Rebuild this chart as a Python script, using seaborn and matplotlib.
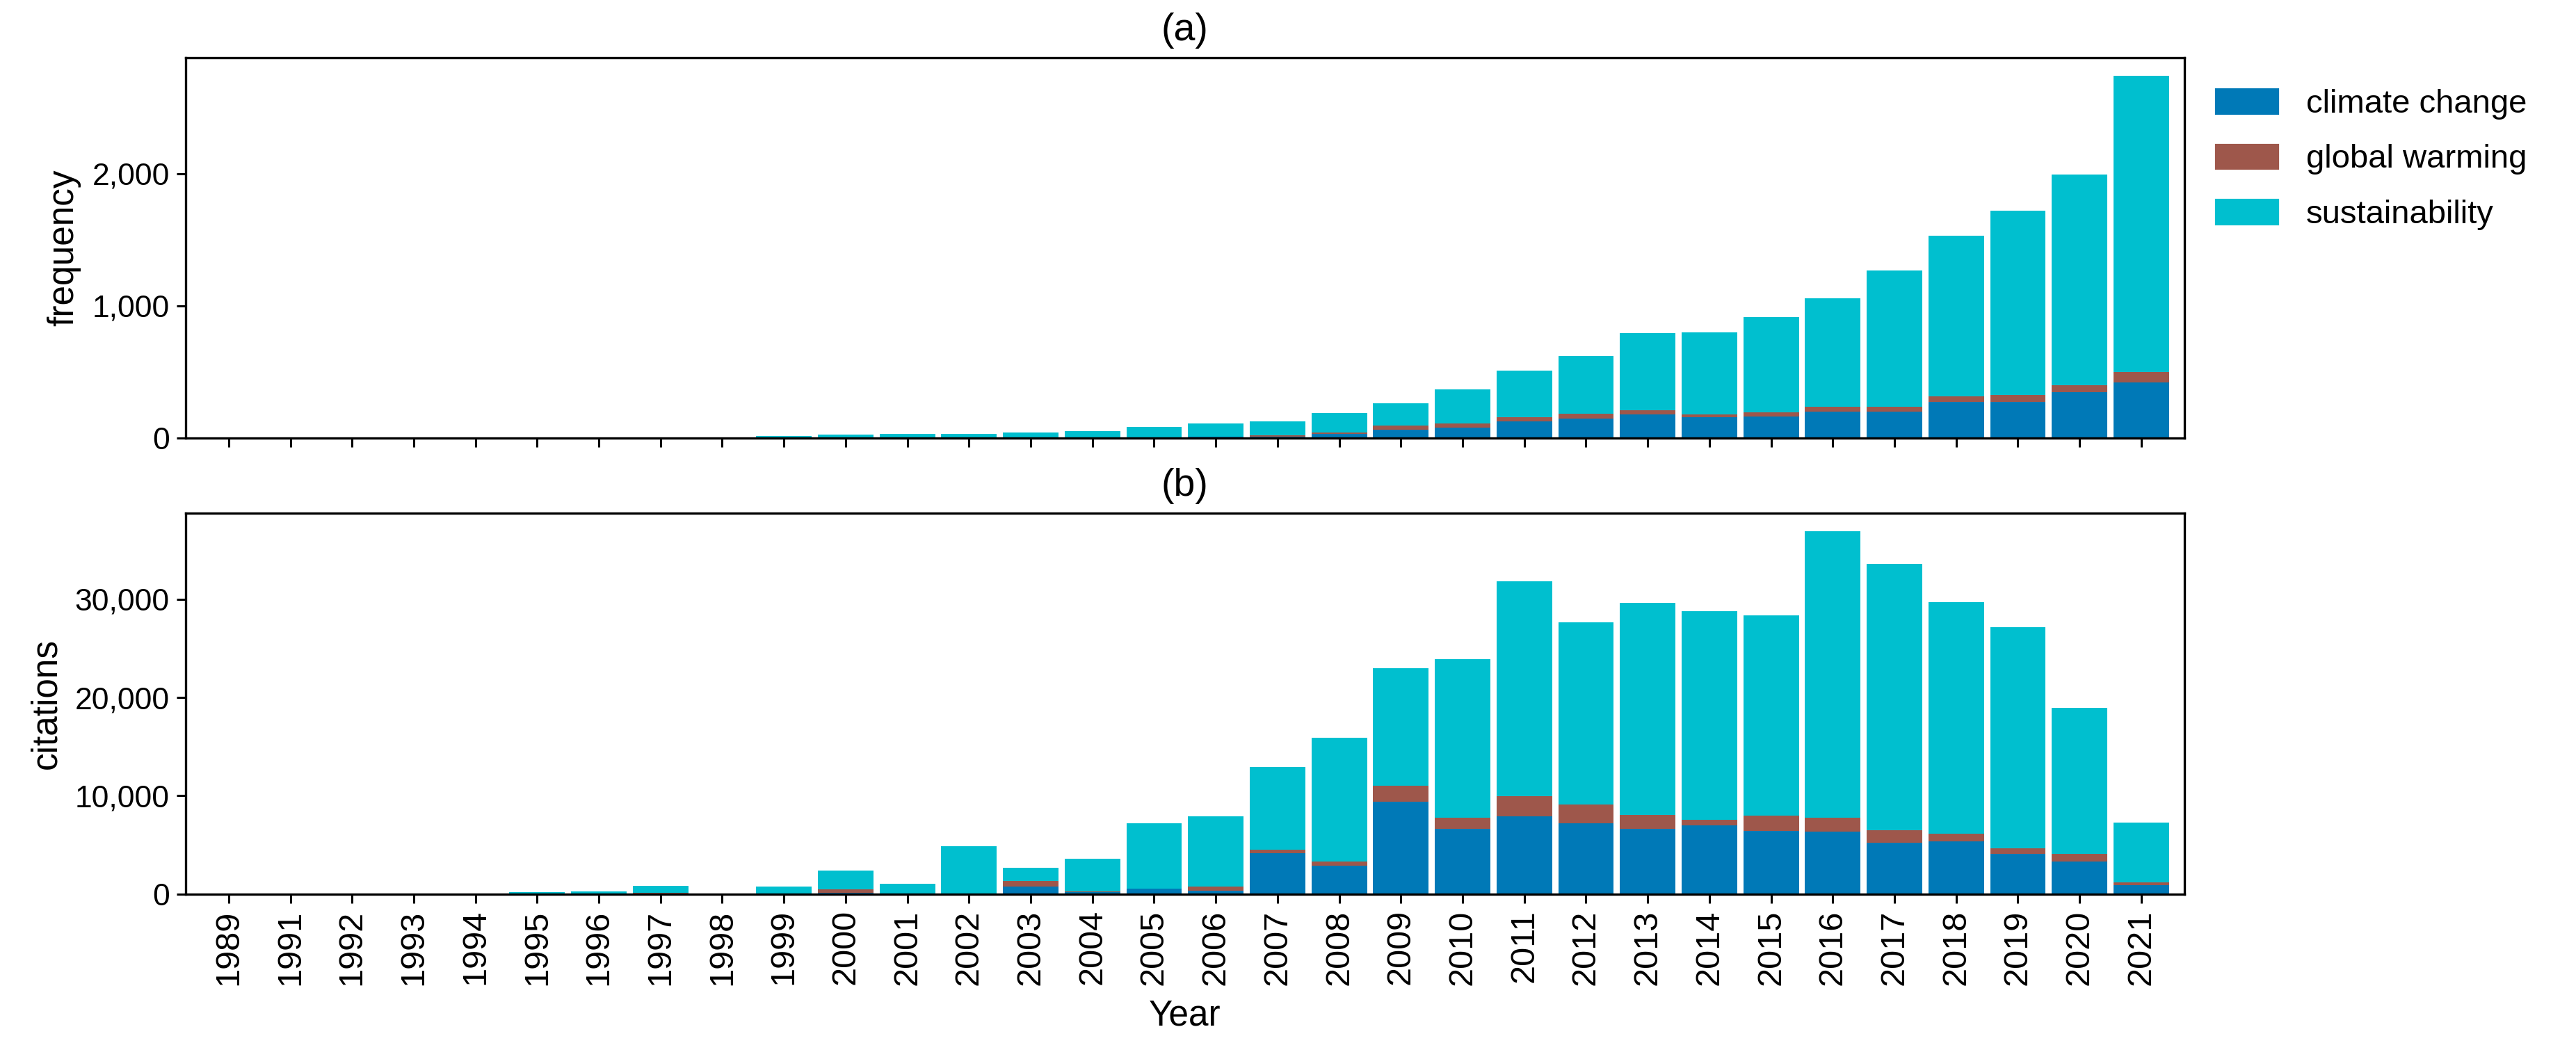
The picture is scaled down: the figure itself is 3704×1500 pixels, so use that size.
import pandas as pd
import numpy as np
import matplotlib.pyplot as plt
import seaborn as sns
from matplotlib.patches import Patch
from matplotlib.ticker import MultipleLocator, StrMethodFormatter

# Du lieu doc tu hinh (nam 1990 khong co)
years = ["1989"] + [str(y) for y in range(1991, 2022)]

# (a) so bai bao moi nam
freq_cc = [0, 0, 0, 0, 0, 0, 0, 0, 0, 0, 1, 0, 0, 3, 1, 2, 10, 8, 28, 64,
           80, 127, 146, 179, 157, 162, 200, 200, 271, 271, 346, 419]
freq_gw = [0, 0, 0, 0, 0, 0, 0, 1, 0, 0, 1, 0, 0, 3, 1, 0, 2, 10, 11, 28,
           28, 28, 35, 28, 23, 31, 35, 35, 44, 54, 52, 82]
freq_sus = [1, 1, 1, 1, 1, 2, 2, 2, 2, 16, 21, 28, 33, 33, 52, 79, 95, 106, 147, 169,
            259, 353, 438, 586, 618, 722, 821, 1033, 1217, 1395, 1597, 2243]

# (b) so trich dan moi nam
cit_cc = [0, 0, 0, 0, 0, 0, 0, 0, 0, 0, 118, 0, 0, 733, 165, 520, 307, 4137, 2846, 9385,
          6615, 7885, 7192, 6615, 6962, 6423, 6346, 5192, 5346, 4038, 3269, 885]
cit_gw = [0, 0, 0, 0, 0, 0, 0, 95, 0, 0, 331, 0, 0, 567, 95, 0, 426, 355, 423, 1653,
          1154, 2077, 1923, 1423, 615, 1539, 1385, 1308, 769, 616, 769, 307]
cit_sus = [0, 0, 0, 0, 0, 142, 213, 685, 0, 709, 1915, 1017, 4846, 1348, 3310, 6667, 7152, 8431, 12654, 11962,
           16154, 21846, 18577, 21577, 21192, 20384, 29192, 27077, 23577, 22538, 14924, 6077]

labels = ["climate change", "global warming", "sustainability"]
colors = ["#0079b7", "#9e574b", "#00bfcf"]

sns.set_style("ticks", {"axes.edgecolor": "black", "xtick.color": "black",
                        "ytick.color": "black", "text.color": "black",
                        "axes.labelcolor": "black"})
plt.rcParams['font.family'] = ['Liberation Sans', 'DejaVu Sans']


def stacked_bars(ax, cc, gw, sus, title, ylabel, step):
    df = pd.DataFrame({"year": years, "cc": cc, "gw": gw, "sus": sus})
    df["lvl2"] = df["cc"] + df["gw"]
    df["lvl3"] = df["lvl2"] + df["sus"]
    # ve chong len nhau: tong truoc, roi den cc+gw, cuoi cung cc
    for col, c in zip(["lvl3", "lvl2", "cc"], colors[::-1]):
        sns.barplot(data=df, x="year", y=col, color=c, saturation=1,
                    width=0.9, linewidth=0, ax=ax)
    ax.set_xlim(-0.7, len(years) - 0.3)
    ax.yaxis.set_major_locator(MultipleLocator(step))
    ax.yaxis.set_major_formatter(StrMethodFormatter('{x:,.0f}'))
    ax.set_title(title, fontsize=20, pad=9)
    ax.set_ylabel(ylabel, fontsize=18.5, labelpad=6)
    ax.tick_params(axis='y', labelsize=16, length=4.7, width=1.1)
    ax.tick_params(axis='x', labelsize=17.5, length=4.7, width=1.1, labelrotation=90)
    for s in ax.spines.values():
        s.set_linewidth(1.2)


fig, (ax1, ax2) = plt.subplots(2, 1, figsize=(18.52, 7.5))
plt.subplots_adjust(left=0.072, right=0.848, top=0.945, bottom=0.143, hspace=0.198)

stacked_bars(ax1, freq_cc, freq_gw, freq_sus, "(a)", "frequency", 1000)
ax1.set_xlabel("")
ax1.tick_params(axis='x', labelbottom=False)

stacked_bars(ax2, cit_cc, cit_gw, cit_sus, "(b)", "citations", 10000)
ax2.set_xlabel("Year", fontsize=18.5, labelpad=7)

handles = [Patch(facecolor=c, label=l) for c, l in zip(colors, labels)]
ax1.legend(handles=handles, loc="upper left", bbox_to_anchor=(1.0, 1.0), frameon=False,
           fontsize=17, handlelength=2.0, handleheight=0.95, labelspacing=0.7)

plt.savefig("out.png", dpi=200)
plt.close(fig)
